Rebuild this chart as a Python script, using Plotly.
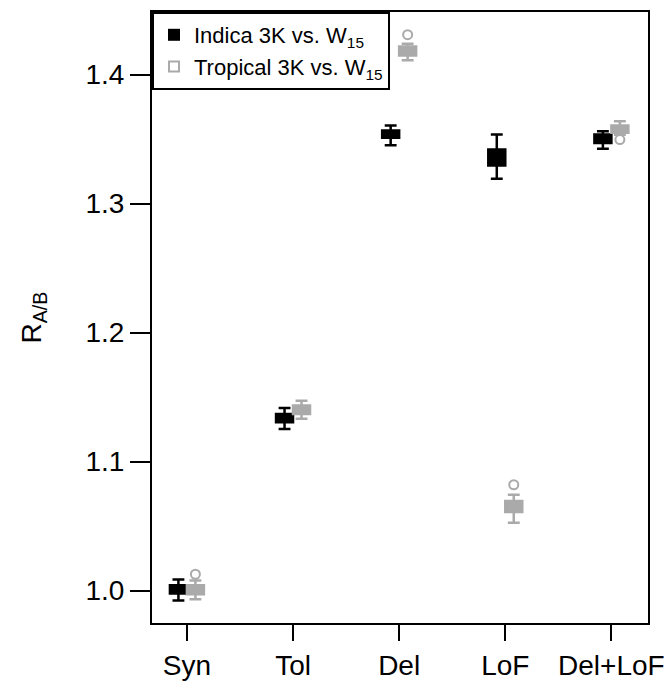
import plotly.graph_objects as go

categories = ["Syn", "Tol", "Del", "LoF", "Del+LoF"]

indica_low = [0.9923, 1.1253, 1.3453, 1.3193, 1.3425]
indica_q1 = [0.9977, 1.1305, 1.3510, 1.3296, 1.3471]
indica_med = [1.0000, 1.1337, 1.3538, 1.3350, 1.3500]
indica_q3 = [1.0041, 1.1369, 1.3567, 1.3420, 1.3536]
indica_high = [1.0085, 1.1416, 1.3605, 1.3536, 1.3561]

tropical_low = [0.9933, 1.1331, 1.4111, 1.0526, 1.3535]
tropical_q1 = [0.9971, 1.1369, 1.4149, 1.0609, 1.3549]
tropical_med = [1.0003, 1.1400, 1.4180, 1.0655, 1.3575]
tropical_q3 = [1.0041, 1.1434, 1.4219, 1.0694, 1.3605]
tropical_high = [1.0077, 1.1472, 1.4240, 1.0743, 1.3639]

tropical_out_cat = ["Syn", "Del", "LoF", "Del+LoF"]
tropical_out_val = [1.0126, 1.4310, 1.0820, 1.3497]

y_ticks = [1.0, 1.1, 1.2, 1.3, 1.4]

BLACK = "#000000"
GRAY = "#AAAAAA"
FONT = "Liberation Sans, Arial, Helvetica, sans-serif"
OFF = 0.08
BW = 0.16

pos = {c: i + 1 for i, c in enumerate(categories)}

fig = go.Figure()

fig.add_trace(go.Box(
    x=[pos[c] - OFF for c in categories],
    q1=indica_q1, median=indica_med, q3=indica_q3,
    lowerfence=indica_low, upperfence=indica_high,
    width=BW, whiskerwidth=0.7,
    fillcolor=BLACK, line=dict(color=BLACK, width=2.5),
    boxpoints=False, showlegend=False, hoverinfo="skip",
))
fig.add_trace(go.Box(
    x=[pos[c] + OFF for c in categories],
    q1=tropical_q1, median=tropical_med, q3=tropical_q3,
    lowerfence=tropical_low, upperfence=tropical_high,
    width=BW, whiskerwidth=0.7,
    fillcolor=GRAY, line=dict(color=GRAY, width=2.5),
    boxpoints=False, showlegend=False, hoverinfo="skip",
))
fig.add_trace(go.Scatter(
    x=[pos[c] + OFF for c in tropical_out_cat], y=tropical_out_val,
    mode="markers",
    marker=dict(symbol="circle-open", size=9, color=GRAY, line=dict(width=2, color=GRAY)),
    showlegend=False, hoverinfo="skip",
))

# legend entries
fig.add_trace(go.Scatter(
    x=[None], y=[None], mode="markers", name="Indica 3K vs. W<sub>15</sub>",
    marker=dict(symbol="square", size=12, color=BLACK),
))
fig.add_trace(go.Scatter(
    x=[None], y=[None], mode="markers", name="Tropical 3K vs. W<sub>15</sub>",
    marker=dict(symbol="square-open", size=10, color=GRAY, line=dict(width=2, color=GRAY)),
))

fig.update_layout(
    template="none",
    width=670, height=682,
    margin=dict(l=152, r=22, t=12, b=59, autoexpand=False),
    paper_bgcolor="white", plot_bgcolor="white",
    font=dict(family=FONT, color="black", size=28),
    showlegend=True,
    legend=dict(
        x=0, y=1, xanchor="left", yanchor="top",
        bordercolor="black", borderwidth=2, bgcolor="white",
        font=dict(size=22, family=FONT),
        tracegroupgap=0, itemsizing="trace",
    ),
    xaxis=dict(
        range=[0.671, 5.345],
        tickmode="array",
        tickvals=[pos[c] for c in categories],
        ticktext=categories,
        ticks="outside", ticklen=16, tickwidth=2, tickcolor="black",
        showline=True, linecolor="black", linewidth=2, mirror=True,
        showgrid=False, zeroline=False, automargin=False,
        tickfont=dict(size=28),
    ),
    yaxis=dict(
        range=[0.9748, 1.4486],
        tickmode="array",
        tickvals=y_ticks,
        ticktext=[f"{v:.1f}" for v in y_ticks],
        ticks="outside", ticklen=20, tickwidth=2, tickcolor="black",
        showline=True, linecolor="black", linewidth=2, mirror=True,
        showgrid=False, zeroline=False, automargin=False,
        tickfont=dict(size=28),
        title=dict(text="R<sub>A/B</sub>", font=dict(size=28), standoff=36),
    ),
)

fig.write_html(
    "out.html",
    config={"displayModeBar": False},
    post_script="document.body.style.margin='0';",
)
